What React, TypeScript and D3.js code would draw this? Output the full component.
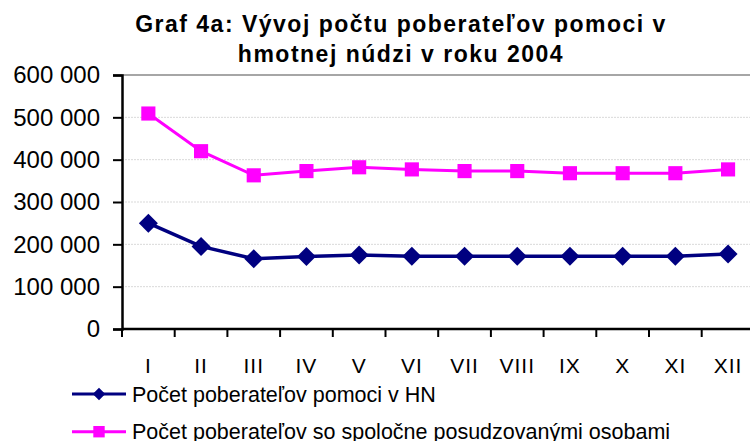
import { useEffect, useRef } from "react";
import * as d3 from "d3";

const months = ["I", "II", "III", "IV", "V", "VI", "VII", "VIII", "IX", "X", "XI", "XII"];
const hnValues = [250000, 195000, 166000, 171000, 175000, 172000, 172000, 172000, 172000, 172000, 172000, 177000];
const jointValues = [509000, 420000, 363000, 373000, 382000, 377000, 373000, 373000, 368000, 368000, 368000, 377000];
const yTicks = [0, 100000, 200000, 300000, 400000, 500000, 600000];
const seriesNames = ["Počet poberateľov pomoci v HN", "Počet poberateľov so spoločne posudzovanými osobami"];
const titleLines = ["Graf 4a: Vývoj počtu poberateľov pomoci v", "hmotnej núdzi v roku 2004"];

const W = 750;
const H = 441;
const FONT = "'Liberation Sans', Arial, sans-serif";
const NAVY = "#000080";
const PINK = "#ff00ff";

export default function App() {
  const ref = useRef<SVGSVGElement>(null);

  useEffect(() => {
    if (!ref.current) return;
    const svg = d3.select(ref.current);
    svg.selectAll("*").remove();

    const plot = { left: 122, right: 754.4, top: 75, bottom: 329 };

    const x = d3.scaleBand<string>().domain(months).range([plot.left, plot.right]);
    const cx = (m: string) => x(m)! + x.bandwidth() / 2;
    const y = d3.scaleLinear().domain([0, 600000]).range([plot.bottom, plot.top]);

    // title
    svg
      .append("g")
      .selectAll("text")
      .data(titleLines)
      .enter()
      .append("text")
      .attr("x", 401)
      .attr("y", (_d, i) => 31.7 + i * 30)
      .attr("text-anchor", "middle")
      .style("font-family", FONT)
      .style("font-weight", "700")
      .style("font-size", "23px")
      .style("letter-spacing", "1.5px")
      .text((d) => d);

    // gridlines
    svg
      .append("g")
      .selectAll("line")
      .data(yTicks.filter((t) => t > 0 && t < 600000))
      .enter()
      .append("line")
      .attr("x1", plot.left)
      .attr("x2", W)
      .attr("y1", (d) => y(d))
      .attr("y2", (d) => y(d))
      .attr("stroke", "#d9d9d9")
      .attr("stroke-width", 1)
      .attr("stroke-dasharray", "2,1");

    // top border
    svg
      .append("line")
      .attr("x1", plot.left)
      .attr("x2", W)
      .attr("y1", y(600000))
      .attr("y2", y(600000))
      .attr("stroke", "#888")
      .attr("stroke-width", 1.5);

    // y axis
    const yAxis = svg
      .append("g")
      .attr("transform", `translate(${plot.left},0)`)
      .call(d3.axisLeft(y).tickValues(yTicks).tickSize(9).tickPadding(13).tickFormat((d) => d3.format(",")(d as number).replace(/,/g, " ")));
    yAxis.select(".domain").attr("stroke", "#000").attr("stroke-width", 2.5);
    yAxis.selectAll(".tick line").attr("stroke", "#000").attr("stroke-width", 2);
    yAxis
      .selectAll("text")
      .attr("dy", "0.33em")
      .style("font-family", FONT)
      .style("font-size", "24px")
      .style("fill", "#000");

    // x axis
    const xAxis = svg.append("g").attr("transform", `translate(0,${plot.bottom})`);
    xAxis
      .append("line")
      .attr("x1", plot.left)
      .attr("x2", W)
      .attr("stroke", "#000")
      .attr("stroke-width", 2.5);
    xAxis
      .selectAll("line.tick")
      .data(months)
      .enter()
      .append("line")
      .attr("class", "tick")
      .attr("x1", (d) => x(d)!)
      .attr("x2", (d) => x(d)!)
      .attr("y1", 0)
      .attr("y2", 8)
      .attr("stroke", "#000")
      .attr("stroke-width", 2);
    xAxis
      .selectAll("text")
      .data(months)
      .enter()
      .append("text")
      .attr("x", (d) => cx(d))
      .attr("y", 43.7)
      .attr("text-anchor", "middle")
      .style("font-family", FONT)
      .style("font-size", "21px")
      .style("letter-spacing", "1px")
      .text((d) => d);

    const line = d3
      .line<number>()
      .x((_d, i) => cx(months[i]))
      .y((d) => y(d));

    const diamond = d3.symbol().type(d3.symbolDiamond2);
    const square = d3.symbol().type(d3.symbolSquare);

    // pink series
    svg
      .append("path")
      .datum(jointValues)
      .attr("d", line)
      .attr("fill", "none")
      .attr("stroke", PINK)
      .attr("stroke-width", 3);
    svg
      .append("g")
      .selectAll("path")
      .data(jointValues)
      .enter()
      .append("path")
      .attr("transform", (d, i) => `translate(${cx(months[i])},${y(d)})`)
      .attr("d", square.size(200)() as string)
      .attr("fill", PINK);

    // navy series
    svg
      .append("path")
      .datum(hnValues)
      .attr("d", line)
      .attr("fill", "none")
      .attr("stroke", NAVY)
      .attr("stroke-width", 3.5);
    svg
      .append("g")
      .selectAll("path")
      .data(hnValues)
      .enter()
      .append("path")
      .attr("transform", (d, i) => `translate(${cx(months[i])},${y(d)})`)
      .attr("d", diamond.size(230)() as string)
      .attr("fill", NAVY);

    // legend
    const legend = svg
      .append("g")
      .selectAll("g")
      .data(seriesNames)
      .enter()
      .append("g")
      .attr("transform", (_d, i) => `translate(0,${394 + i * 37.7})`);
    legend
      .append("line")
      .attr("x1", 72)
      .attr("x2", 126)
      .attr("stroke", (_d, i) => (i === 0 ? NAVY : PINK))
      .attr("stroke-width", 3);
    legend
      .append("path")
      .attr("transform", "translate(99,0)")
      .attr("d", (_d, i) => (i === 0 ? diamond.size(100)() : square.size(130)()) as string)
      .attr("fill", (_d, i) => (i === 0 ? NAVY : PINK));
    legend
      .append("text")
      .attr("x", 132)
      .attr("y", 7.7)
      .style("font-family", FONT)
      .style("font-size", "21.5px")
      .text((d) => d);
  }, []);

  return (
    <svg
      ref={ref}
      width={W}
      height={H}
      style={{ position: "absolute", left: 0, top: 0, background: "#fff" }}
    />
  );
}
